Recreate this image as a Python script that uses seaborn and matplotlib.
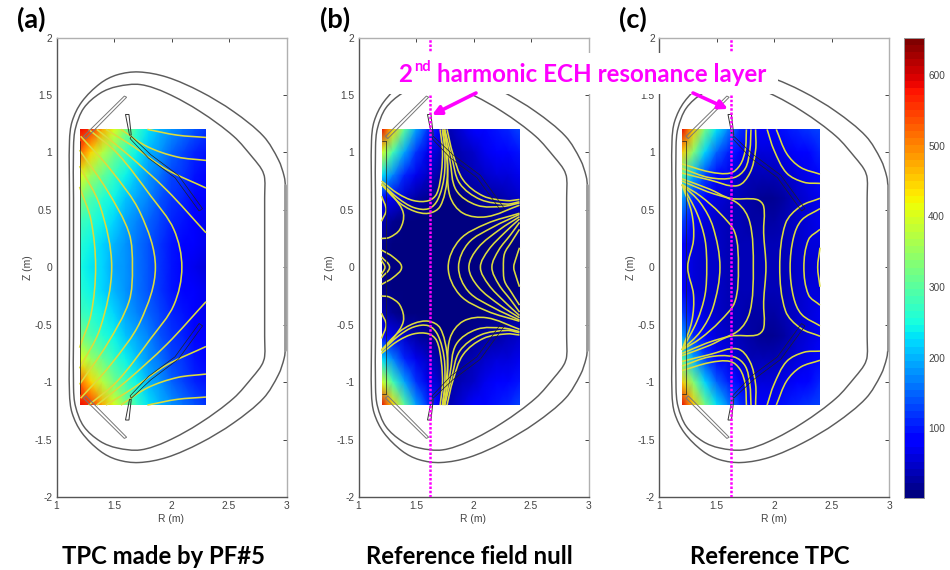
import numpy as np
import seaborn as sns
import matplotlib
matplotlib.use("Agg")
import matplotlib.pyplot as plt
from matplotlib.path import Path
from matplotlib.patches import PathPatch, Polygon, Rectangle, FancyArrowPatch

# field strength, upper half, Z = 1.2 down to 0 in steps of 0.2
field_a = [
    [590, 560, 470, 400, 330, 270, 230, 200, 175, 155, 135, 120],
    [530, 440, 370, 320, 280, 240, 205, 175, 150, 130, 110, 100],
    [410, 350, 310, 275, 240, 210, 180, 155, 130, 115, 100, 85],
    [330, 295, 265, 240, 215, 190, 165, 140, 120, 105, 90, 75],
    [285, 260, 240, 220, 195, 170, 150, 130, 110, 95, 80, 70],
    [260, 240, 225, 205, 180, 160, 140, 120, 100, 85, 75, 65],
    [250, 235, 220, 195, 175, 155, 135, 115, 95, 80, 70, 60],
]
field_b = [
    [590, 440, 300, 190, 120, 75, 40, 55, 75, 85, 95, 110, 125],
    [400, 280, 190, 120, 70, 45, 25, 35, 50, 65, 75, 85, 95],
    [230, 170, 110, 70, 45, 30, 15, 25, 35, 45, 55, 60, 70],
    [90, 70, 45, 30, 18, 12, 8, 12, 20, 25, 30, 35, 45],
    [35, 22, 12, 8, 5, 5, 5, 5, 8, 10, 15, 18, 20],
    [20, 12, 8, 5, 3, 3, 3, 3, 5, 5, 8, 8, 10],
    [18, 10, 8, 4, 3, 3, 3, 3, 3, 5, 5, 8, 8],
]
field_c = [
    [590, 450, 320, 230, 170, 120, 90, 80, 85, 95, 105, 115, 130],
    [450, 330, 220, 150, 105, 75, 60, 55, 60, 70, 80, 90, 105],
    [300, 200, 125, 85, 65, 50, 40, 35, 40, 50, 60, 70, 85],
    [190, 110, 75, 55, 45, 35, 25, 18, 20, 30, 45, 55, 70],
    [130, 80, 55, 45, 40, 35, 30, 25, 28, 35, 45, 55, 65],
    [90, 62, 50, 45, 40, 40, 35, 35, 35, 40, 45, 55, 60],
    [80, 58, 50, 45, 40, 40, 40, 40, 40, 40, 45, 50, 55],
]

# field lines (R, Z), upper half; the lower half is the mirror image
lines_a = [
    [(1.79, 1.20), (2.05, 1.15), (2.30, 1.13)],
    [(1.56, 1.20), (1.79, 1.05), (2.05, 0.96), (2.30, 0.93)],
    [(1.43, 1.20), (1.67, 1.05), (1.96, 0.85), (2.30, 0.69)],
    [(1.35, 1.20), (1.61, 0.99), (1.96, 0.67), (2.30, 0.30)],
    [(1.28, 1.20), (1.53, 0.99), (1.82, 0.62), (2.02, 0.33), (2.09, 0)],
    [(1.21, 1.14), (1.47, 0.85), (1.73, 0.47), (1.86, 0)],
    [(1.20, 1.02), (1.44, 0.67), (1.63, 0.30), (1.66, 0)],
    [(1.20, 0.88), (1.38, 0.53), (1.48, 0)],
    [(1.20, 0.70), (1.30, 0.41), (1.34, 0)],
]
lines_b = [
    [(1.20, 0.75), (1.345, 0.64), (1.48, 0.58), (1.61, 0.58), (1.68, 0.64), (1.72, 0.82), (1.73, 1.02), (1.71, 1.20)],
    [(1.20, 0.73), (1.345, 0.60), (1.48, 0.52), (1.61, 0.51), (1.69, 0.59), (1.745, 0.79), (1.75, 1.02), (1.73, 1.20)],
    [(1.20, 0.72), (1.345, 0.57), (1.48, 0.49), (1.61, 0.47), (1.71, 0.53), (1.77, 0.76), (1.77, 1.02), (1.75, 1.20)],
    [(1.77, 1.20), (1.82, 0.99), (1.91, 0.76), (2.085, 0.62), (2.29, 0.58), (2.40, 0.59)],
    [(1.75, 1.20), (1.81, 0.96), (1.88, 0.73), (2.06, 0.59), (2.29, 0.55), (2.40, 0.57)],
    [(1.74, 1.20), (1.795, 0.93), (1.85, 0.67), (2.03, 0.54), (2.26, 0.53), (2.40, 0.56)],
    [(1.73, 1.20), (1.77, 0.93), (1.795, 0.62), (1.91, 0.47), (2.115, 0.44), (2.40, 0.54)],
    [(1.20, 0.62), (1.24, 0.50), (1.20, 0.40)],
    [(1.20, 0.72), (1.30, 0.62), (1.39, 0.47), (1.36, 0.33), (1.27, 0.26), (1.20, 0.25)],
    [(1.20, 0.15), (1.30, 0.09), (1.375, 0)],
    [(1.20, 0.09), (1.27, 0)],
    [(1.20, 0.06), (1.23, 0)],
    [(2.40, 0.47), (2.115, 0.38), (1.88, 0.24), (1.78, 0)],
    [(2.40, 0.46), (2.17, 0.35), (1.955, 0.21), (1.87, 0)],
    [(2.40, 0.44), (2.23, 0.33), (2.04, 0.17), (1.96, 0)],
    [(2.40, 0.42), (2.27, 0.30), (2.13, 0.15), (2.06, 0)],
    [(2.40, 0.39), (2.32, 0.28), (2.22, 0.15), (2.16, 0)],
    [(2.40, 0.33), (2.33, 0.22), (2.27, 0.12), (2.26, 0)],
    [(2.40, 0.17), (2.37, 0.08), (2.35, 0)],
]
lines_c = [
    [(1.20, 0.90), (1.44, 0.83), (1.62, 0.82), (1.705, 0.89), (1.75, 1.02), (1.76, 1.20)],
    [(1.20, 0.86), (1.44, 0.78), (1.65, 0.78), (1.75, 0.86), (1.79, 1.02), (1.80, 1.20)],
    [(1.20, 0.82), (1.44, 0.76), (1.68, 0.71), (1.79, 0.82), (1.84, 1.02), (1.84, 1.20)],
    [(1.20, 0.77), (1.44, 0.68), (1.62, 0.60), (1.85, 0.59), (1.91, 0.53), (1.91, 0.30), (1.93, 0)],
    [(1.20, 0.75), (1.415, 0.66), (1.68, 0.56), (1.79, 0.39), (1.82, 0)],
    [(1.20, 0.72), (1.36, 0.62), (1.53, 0.47), (1.66, 0.30), (1.69, 0)],
    [(1.20, 0.72), (1.36, 0.56), (1.47, 0.35), (1.53, 0)],
    [(1.20, 0.72), (1.33, 0.47), (1.40, 0.24), (1.415, 0)],
    [(1.20, 0.72), (1.285, 0.47), (1.30, 0.24), (1.25, 0)],
    [(1.94, 1.20), (2.00, 1.02), (2.11, 0.82), (2.26, 0.74), (2.40, 0.73)],
    [(2.02, 1.20), (2.11, 0.99), (2.23, 0.87), (2.40, 0.81)],
    [(2.40, 0.60), (2.23, 0.53), (2.10, 0.38), (2.05, 0)],
    [(2.40, 0.51), (2.24, 0.41), (2.17, 0.26), (2.14, 0)],
    [(2.40, 0.33), (2.30, 0.24), (2.26, 0)],
    [(2.40, 0.17), (2.38, 0)],
]

# vessel walls, upper half
wall_outer = [(1.113, 0), (1.113, 0.6), (1.113, 1.10), (1.136, 1.27), (1.22, 1.44), (1.38, 1.60), (1.527, 1.675),
              (1.715, 1.70), (1.96, 1.655), (2.25, 1.53), (2.54, 1.355), (2.80, 1.14), (2.93, 0.935), (2.98, 0.79),
              (2.99, 0.70), (2.99, 0.4), (2.99, 0)]
wall_inner = [(1.148, 0), (1.148, 0.6), (1.148, 1.05), (1.165, 1.21), (1.237, 1.385), (1.38, 1.515), (1.527, 1.573),
              (1.73, 1.59), (1.96, 1.515), (2.25, 1.355), (2.54, 1.14), (2.71, 0.95), (2.785, 0.85), (2.81, 0.775),
              (2.81, 0.6), (2.81, 0)]

# passive plates, upper half
plate_long = [(1.235, 1.14), (1.59, 1.49), (1.61, 1.48), (1.255, 1.12)]
plate_short = [(1.60, 1.33), (1.63, 1.33), (1.65, 1.15), (1.635, 1.15)]
plate_diag = [(1.65, 1.14), (1.82, 0.98), (2.06, 0.80), (2.27, 0.51), (2.24, 0.49), (2.03, 0.78), (1.80, 0.95),
              (1.64, 1.12)]

r_ticks = [1, 1.5, 2, 2.5, 3]
r_tick_labels = ["1", "1.5", "2", "2.5", "3"]
z_ticks = [2, 1.5, 1, 0.5, 0, -0.5, -1, -1.5, -2]
z_tick_labels = ["2", "1.5", "1", "0.5", "0", "-0.5", "-1", "-1.5", "-2"]
cbar_ticks = [100, 200, 300, 400, 500, 600]
titles = ["TPC made by PF#5", "Reference field null", "Reference TPC"]
panel_labels = ["(a)", "(b)", "(c)"]
resonance_r = 1.622

MAGENTA = "#ff00ff"
VMIN, VMAX = 2, 653


def px(x, y):
    return x / 950, 1 - y / 570


def mirrored(pts):
    """Upper half curve to the whole curve, or to two curves if it does not reach Z=0"""
    lower = [(r, -z) for r, z in pts]
    if pts[-1][1] == 0:
        return [pts + lower[-2::-1]]
    return [pts, lower]


def smooth_patch(pts, **kwargs):
    """Curve through the given points, as a bezier path"""
    p = np.array(pts, dtype=float)
    d = np.linalg.norm(np.diff(p, axis=0), axis=1)
    t = np.gradient(p, axis=0)
    t = t / np.linalg.norm(t, axis=1, keepdims=True)
    verts = [p[0]]
    for i in range(len(p) - 1):
        verts += [p[i] + t[i] * d[i] / 3, p[i + 1] - t[i + 1] * d[i] / 3, p[i + 1]]
    codes = [Path.MOVETO] + [Path.CURVE4] * (len(verts) - 1)
    return PathPatch(Path(verts, codes), fill=False, **kwargs)


def draw_machine(ax, box_r):
    for wall in (wall_outer, wall_inner):
        whole = wall + [(r, -z) for r, z in wall[-2::-1]]
        ax.add_patch(smooth_patch(whole, edgecolor="#5c5c5c", lw=1.05, zorder=3))
    ax.plot([2.99, 2.99], [-0.72, 0.72], color="#9a9a9a", lw=2.0, zorder=3)
    for sign in (1, -1):
        ax.add_patch(Polygon([(r, sign * z) for r, z in plate_long], fill=False, edgecolor="#777777", lw=0.7, zorder=4))
        ax.add_patch(Polygon([(r, sign * z) for r, z in plate_short], fill=False, edgecolor="#333333", lw=0.7, zorder=4))
        ax.add_patch(Polygon([(r, sign * z) for r, z in plate_diag], fill=False, edgecolor="#222222", lw=0.5, zorder=4))
        ax.plot([1.2, box_r], [sign * 1.1, sign * 1.1], color="#222222", lw=0.5, zorder=4)
    ax.plot([box_r, box_r], [-1.1, 1.1], color="#222222", lw=0.5, zorder=4)


def draw_panel(fig, left, field, r_max, lines, box_r, title, title_x, label, label_x, resonance, cbar_ax=None):
    ax = fig.add_axes([left / 950, 1 - 497 / 570, 230 / 950, 459.5 / 570])
    heat_ax = ax.inset_axes([1.2, -1.2, r_max - 1.2, 2.4], transform=ax.transData, zorder=1)
    upper = np.array(field, dtype=float)
    values = np.vstack([upper, upper[-2::-1]])
    sns.heatmap(values, ax=heat_ax, cmap=plt.get_cmap("jet", 64), vmin=VMIN, vmax=VMAX, shading="gouraud",
                xticklabels=False, yticklabels=False, cbar=cbar_ax is not None, cbar_ax=cbar_ax)
    heat_ax.set_xlim(0, values.shape[1] - 1)
    heat_ax.set_ylim(values.shape[0] - 1, 0)
    heat_ax.axis("off")

    for line in lines:
        for part in mirrored(line):
            ax.add_patch(smooth_patch(part, edgecolor="#dcdc3c", lw=1.15, zorder=3.5))
    draw_machine(ax, box_r)
    if resonance:
        ax.plot([resonance_r, resonance_r], [-2, 2], color=MAGENTA, lw=1.8, ls=(0, (1, 0.7)), zorder=5)

    ax.set_xlim(1, 3)
    ax.set_ylim(-2, 2)
    ax.set_xticks(r_ticks, r_tick_labels)
    ax.set_yticks(z_ticks, z_tick_labels)
    ax.tick_params(direction="in", length=3, width=0.7, colors="#444444", labelsize=7.4, top=True, right=True, pad=3)
    ax.set_xlabel("R (m)", fontsize=7.4, color="#444444", labelpad=2)
    ax.set_ylabel("Z (m)", fontsize=7.4, color="#444444", labelpad=1)
    for side in ("left", "bottom"):
        ax.spines[side].set_color("#555555")
        ax.spines[side].set_linewidth(1.0)
    for side in ("top", "right"):
        ax.spines[side].set_color("#b0b0b0")
        ax.spines[side].set_linewidth(1.0)
    fig.text(*px(title_x, 557), title, family="Lato", weight="bold", fontsize=17.2, color="black",
             ha="center", va="center")
    fig.text(*px(label_x, 19), label, family="Lato", weight="bold", fontsize=19.5, color="black",
             ha="center", va="center")
    return heat_ax


sns.set_theme(style="white")
plt.rcParams["font.family"] = ["Liberation Sans", "DejaVu Sans"]
fig = plt.figure(figsize=(9.5, 5.7), dpi=100)

cax = fig.add_axes([904.3 / 950, 1 - 497.5 / 570, 19.7 / 950, 459.8 / 570])
draw_panel(fig, 56.5, field_a, 2.3, lines_a, 1.208, titles[0], 163, panel_labels[0], 31, False)
draw_panel(fig, 358.5, field_b, 2.4, lines_b, 1.238, titles[1], 469, panel_labels[1], 335, True)
draw_panel(fig, 659, field_c, 2.4, lines_c, 1.238, titles[2], 770, panel_labels[2], 633, True, cbar_ax=cax)

cax.set_yticks(cbar_ticks)
cax.tick_params(direction="in", length=2.5, width=0.7, colors="#444444", labelsize=7.2, left=True, right=True, pad=3)
for spine in cax.spines.values():
    spine.set_visible(True)
    spine.set_color("#999999")
    spine.set_linewidth(0.7)

# white strip behind the annotation, it hides the frames and walls below it
fig.add_artist(Rectangle(px(362, 93.5), 416 / 950, 41 / 570, transform=fig.transFigure, facecolor="white",
                         edgecolor="none", zorder=5))
text_kw = dict(family="Lato", weight="bold", color=MAGENTA, ha="left", va="center", zorder=6)
fig.text(*px(398, 75), "2", fontsize=17.4, **text_kw)
fig.text(*px(414, 67), "nd", fontsize=10.5, **text_kw)
fig.text(*px(437, 75), "harmonic ECH resonance layer", fontsize=17.4, **text_kw)
for start, end in [((476, 93), (432, 115)), ((693, 93), (728, 109))]:
    fig.add_artist(FancyArrowPatch(px(*start), px(*end), transform=fig.transFigure, arrowstyle="-|>",
                                   mutation_scale=13, lw=2.6, color=MAGENTA, shrinkA=0, shrinkB=0, zorder=6))

plt.savefig("out.png", dpi=100)
